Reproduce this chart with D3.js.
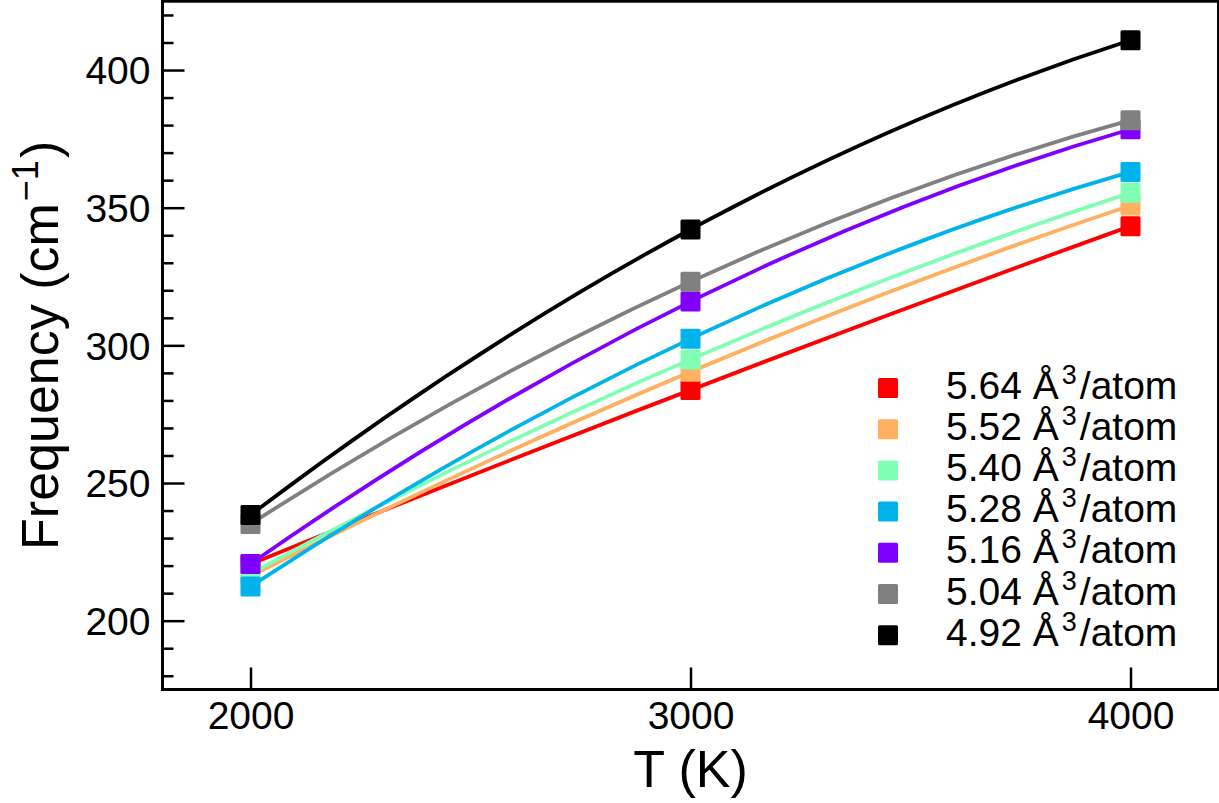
<!DOCTYPE html>
<html>
<head>
<meta charset="utf-8">
<script src="https://cdn.jsdelivr.net/npm/d3@7/dist/d3.min.js"></script>
<style>
  html, body { margin: 0; padding: 0; background: #fff; }
  svg text { font-family: "Liberation Sans", Arial, Helvetica, sans-serif; fill: #000; }
</style>
</head>
<body>
<svg id="chart" width="1219" height="803"></svg>
<script>
// ---- data ----
const temperatures = [2000, 3000, 4000];
const volumes = ["5.64", "5.52", "5.40", "5.28", "5.16", "5.04", "4.92"];
const colors = ["#ff0000", "#ffb060", "#80ffb4", "#00b4eb", "#8000ff", "#808080", "#000000"];
const freq_564 = [220.5, 283.8, 343.3];
const freq_552 = [216.2, 290.4, 350.8];
const freq_540 = [217.1, 294.9, 355.4];
const freq_528 = [212.4, 302.4, 363.0];
const freq_516 = [220.6, 315.9, 378.5];
const freq_504 = [235.1, 323.1, 381.8];
const freq_492 = [238.4, 342.1, 410.8];
const seriesValues = [freq_564, freq_552, freq_540, freq_528, freq_516, freq_504, freq_492];
const xTicks = [2000, 3000, 4000];
const yTicks = [200, 250, 300, 350, 400];
const yMinorTicks = d3.range(180, 421, 10);

// ---- layout ----
const svg = d3.select("#chart");
const L = 162.5, R = 1218.5, T = 1.2, B = 689.5;
const x = d3.scaleLinear().domain([1800, 4200]).range([L, R]);
const y = d3.scaleLinear().domain([175, 425]).range([B, T]);

// quadratic interpolant through three points, drawn as one quadratic Bezier
function QuadCurve(context) { this._context = context; }
QuadCurve.prototype = {
  areaStart() {}, areaEnd() {},
  lineStart() { this._pts = []; },
  point(px, py) { this._pts.push([+px, +py]); },
  lineEnd() {
    const p = this._pts, c = this._context;
    if (!p.length) return;
    c.moveTo(p[0][0], p[0][1]);
    if (p.length === 3) {
      const cx = 2 * p[1][0] - (p[0][0] + p[2][0]) / 2;
      const cy = 2 * p[1][1] - (p[0][1] + p[2][1]) / 2;
      c.quadraticCurveTo(cx, cy, p[2][0], p[2][1]);
    } else {
      for (let i = 1; i < p.length; i++) c.lineTo(p[i][0], p[i][1]);
    }
  }
};
const curveQuad = ctx => new QuadCurve(ctx);

// ---- axes (inward ticks) ----
const yAxis = d3.axisLeft(y).tickValues(yTicks).tickSize(-22).tickPadding(12).tickFormat(d3.format("d"));
const yMinor = d3.axisLeft(y).tickValues(yMinorTicks.filter(v => !yTicks.includes(v))).tickSize(-11).tickFormat("");
const xAxis = d3.axisBottom(x).tickValues(xTicks).tickSize(-22).tickPadding(12).tickFormat(d3.format("d"));

const gy = svg.append("g").attr("transform", `translate(${L},0)`).call(yAxis);
const gym = svg.append("g").attr("transform", `translate(${L},0)`).call(yMinor);
const gx = svg.append("g").attr("transform", `translate(0,${B})`).call(xAxis);
[gy, gym, gx].forEach(g => {
  g.select(".domain").remove();
  g.selectAll(".tick line").attr("stroke", "#000").attr("stroke-width", 2.5);
  g.selectAll(".tick text").attr("font-size", 39).attr("fill", "#000")
    .style("font-family", '"Liberation Sans", Arial, sans-serif');
});
gy.selectAll(".tick text").attr("dy", "0.35em");
gx.selectAll(".tick text").attr("dy", "0.71em");

// ---- series ----
const line = d3.line().x((d, i) => x(temperatures[i])).y(d => y(d)).curve(curveQuad);
const plot = svg.append("g");
seriesValues.forEach((vals, k) => {
  const g = plot.append("g");
  g.append("path").attr("d", line(vals)).attr("fill", "none")
    .attr("stroke", colors[k]).attr("stroke-width", 3.8);
  g.selectAll("rect").data(vals).enter().append("rect")
    .attr("x", (d, i) => x(temperatures[i]) - 10)
    .attr("y", d => y(d) - 10)
    .attr("width", 20).attr("height", 20).attr("rx", 1.5)
    .attr("fill", colors[k]);
});

// ---- frame ----
svg.append("rect").attr("x", L).attr("y", T).attr("width", R - L).attr("height", B - T)
  .attr("fill", "none").attr("stroke", "#000").attr("stroke-width", 3);

// ---- axis labels ----
svg.append("text").attr("x", (L + R) / 2).attr("y", 787).attr("text-anchor", "middle")
  .attr("font-size", 52).text("T (K)");
const yl = svg.append("text").attr("transform", `translate(58,${(T + B) / 2}) rotate(-90)`)
  .attr("text-anchor", "middle").attr("font-size", 52);
yl.append("tspan").text("Frequency (cm");
yl.append("tspan").attr("font-size", 36).attr("dy", -20).attr("dx", 2).text("\u22121");
yl.append("tspan").attr("dy", 20).attr("dx", 2).text(")");

// ---- legend ----
const lg = svg.append("g");
volumes.forEach((v, k) => {
  const cy = 388 + k * 41.2;
  lg.append("rect").attr("x", 878).attr("y", cy - 10).attr("width", 20).attr("height", 20)
    .attr("rx", 1.5).attr("fill", colors[k]);
  const t = lg.append("text").attr("x", 946).attr("y", cy + 10.5).attr("font-size", 39);
  t.append("tspan").text(v + " \u00C5");
  t.append("tspan").attr("font-size", 27).attr("dy", -15).attr("dx", 3).text("3");
  t.append("tspan").attr("dy", 15).attr("dx", 3).text("/atom");
});
</script>
</body>
</html>
